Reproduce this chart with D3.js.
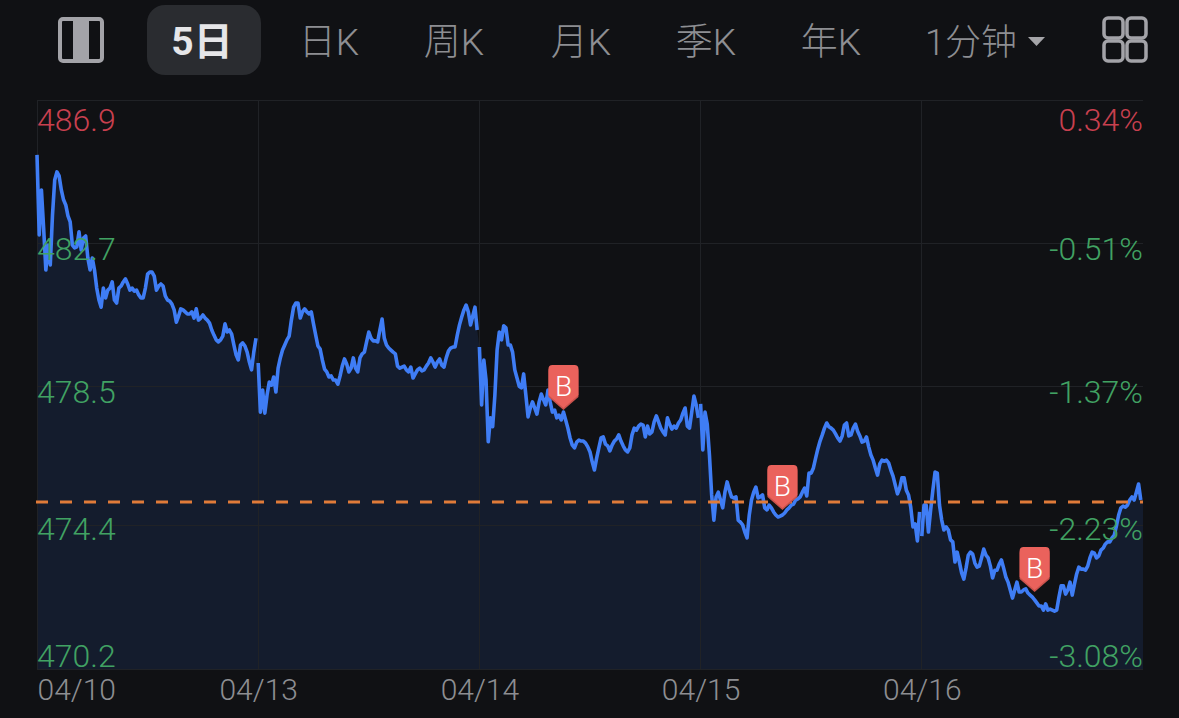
<!DOCTYPE html>
<html>
<head>
<meta charset="utf-8">
<script src="https://cdn.jsdelivr.net/npm/d3@7"></script>
<style>
html, body { margin: 0; padding: 0; background: #101114; overflow: hidden; }
text { font-family: Roboto, "Noto Sans CJK SC", sans-serif; }
</style>
</head>
<body>
<div id="chart"></div>
<script>
// Data
const tabs = ["日K", "周K", "月K", "季K", "年K"];
const dates = ["04/10", "04/13", "04/14", "04/15", "04/16"];
const priceTicks = [486.9, 482.7, 478.5, 474.4, 470.2];
const pctTicks = ["0.34%", "-0.51%", "-1.37%", "-2.23%", "-3.08%"];
const avgCost = 475.1;
const buySlots = [238, 337, 451];
const buyPrices = [477.80, 474.87, 472.46];

const day1 = [485.29,482.94,484.26,483.14,481.91,482.64,482.06,483.52,484.55,484.79,484.67,484.26,483.97,483.82,483.50,483.32,482.64,482.56,482.59,483.03,482.50,482.85,482.91,482.26,481.91,482.26,481.91,481.38,481.03,480.82,481.38,481.09,481.32,481.38,481.56,481.03,480.94,481.38,481.44,481.56,481.65,481.50,481.32,481.38,481.29,481.32,481.18,481.09,481.09,481.38,481.79,481.85,481.85,481.73,481.32,481.44,481.50,481.44,481.15,481.03,481.00,480.91,480.74,480.38,480.56,480.77,480.74,480.68,480.62,480.62,480.68,480.50,480.77,480.44,480.50,480.59,480.50,480.44,480.35,480.15,480.00,479.86,479.80,479.86,479.97,480.33,480.09,480.15,480.03,479.71,479.42,479.27,479.71,479.77,479.68,479.50,479.21,478.98,479.50,479.91];
const day2 = [479.18,477.74,478.39,477.71,478.24,478.62,478.53,478.77,478.33,479.03,479.33,479.56,479.71,479.86,479.97,480.44,480.82,480.94,480.94,480.50,480.68,480.77,480.68,480.62,480.68,480.33,480.00,479.68,479.59,479.27,479.00,478.92,478.77,478.80,478.68,478.68,478.56,478.80,479.09,479.30,479.15,478.92,479.03,479.33,479.03,478.92,479.33,479.45,479.50,479.80,480.09,479.91,479.83,479.83,479.80,480.15,480.47,479.91,479.71,479.62,479.56,479.50,479.45,479.09,479.03,479.06,479.09,478.98,478.92,479.06,478.74,478.86,478.98,479.03,478.95,478.98,479.09,479.18,479.33,479.21,479.06,479.21,479.30,479.12,479.06,479.33,479.53,479.62,479.65,479.65,480.00,480.30,480.53,480.74,480.88,480.68,480.30,480.56,480.82,480.15];
const day3 = [479.65,477.95,479.27,478.68,476.87,477.57,477.31,478.24,479.56,480.09,479.86,480.27,480.21,479.71,479.71,479.50,478.98,478.74,478.50,478.45,478.86,478.24,477.60,477.86,478.04,477.86,477.68,478.04,478.27,478.10,477.95,478.39,478.04,477.74,477.80,477.57,477.65,477.51,477.74,477.51,477.27,476.98,476.77,476.69,476.86,476.92,476.89,476.89,476.83,476.72,476.57,476.28,476.04,476.39,476.69,476.98,477.01,476.80,476.75,476.60,476.77,476.89,476.95,477.07,476.89,476.75,476.63,476.57,476.69,477.07,477.27,477.21,477.33,477.39,477.36,477.01,477.33,477.10,477.16,477.45,477.63,477.45,477.27,477.16,477.07,477.57,477.39,477.24,477.33,477.27,477.42,477.51,477.71,477.86,477.33,477.27,477.74,478.21,477.95,477.57];
const day4 = [477.98,476.63,477.74,477.39,476.48,475.31,474.57,475.25,475.39,475.16,474.93,475.39,475.69,475.45,475.25,475.22,475.25,474.57,474.51,474.43,474.22,474.05,474.72,475.16,475.39,475.54,475.22,475.25,475.31,474.93,474.87,475.01,474.93,474.81,474.72,474.66,474.69,474.72,474.78,474.87,474.93,475.01,475.04,475.16,475.19,475.25,475.39,475.51,475.28,475.95,475.95,476.10,476.39,476.66,476.89,477.07,477.27,477.42,477.31,477.27,477.21,477.10,476.98,476.89,477.04,477.36,477.42,477.04,477.07,477.27,477.39,477.18,477.04,476.86,476.89,477.01,476.72,476.48,476.33,476.10,475.89,476.22,476.33,476.30,476.33,476.25,476.04,475.86,475.60,475.34,475.51,475.81,475.81,475.45,475.31,474.95,474.37,474.46,473.96,474.81];
const day5 = [474.10,475.01,475.01,474.22,474.87,475.45,475.98,475.95,475.01,474.57,474.28,474.37,474.28,473.99,473.93,473.34,473.63,473.34,473.02,472.84,473.16,473.54,473.63,473.57,473.31,473.19,473.22,473.46,473.72,473.54,473.46,473.22,472.87,473.10,473.10,473.28,473.40,473.16,472.90,472.75,472.52,472.28,472.52,472.75,472.46,472.46,472.52,472.55,472.43,472.37,472.31,472.23,472.14,472.05,472.05,471.93,472.11,471.93,471.96,471.93,471.90,471.93,472.31,472.64,472.64,472.40,472.52,472.75,472.37,472.69,472.99,473.19,473.13,473.13,473.10,473.22,473.46,473.63,473.60,473.46,473.52,473.69,473.75,473.87,473.93,473.93,474.05,474.13,474.40,474.72,474.93,474.98,474.95,475.01,475.16,475.25,475.16,475.39,475.63,475.16];

// SVG size
const width = 1179;
const height = 718;
const plot = { left: 37, right: 1143, top: 100, bottom: 669 };
const slotsPerDay = 100;

const svg = d3.select("#chart").append("svg")
    .attr("width", width)
    .attr("height", height)
    .style("display", "block");

svg.append("rect").attr("width", width).attr("height", height).attr("fill", "#101114");

// Scales
const x = d3.scaleLinear().domain([0, slotsPerDay * 5]).range([plot.left, plot.right]);
const y = d3.scaleLinear().domain([470.2, 486.9]).range([plot.bottom, plot.top]);

const days = [day1, day2, day3, day4, day5];
const points = days.flatMap((d, i) => d.map((p, j) => ({ slot: i * slotsPerDay + j, price: p })));

// Header
const headerGrey = "#8d8e92";
svg.append("rect").attr("x", 147).attr("y", 5).attr("width", 114).attr("height", 70).attr("rx", 18).attr("fill", "#2a2c30");
svg.append("text").attr("x", 202).attr("y", 55).attr("text-anchor", "middle")
    .attr("font-size", 39).attr("font-weight", 700).attr("fill", "#e6e6e8").text("5日");

const tabX = [329, 454, 581, 706, 831];
svg.selectAll(".tab").data(tabs).enter().append("text")
    .attr("class", "tab")
    .attr("x", (_, i) => tabX[i]).attr("y", 55).attr("text-anchor", "middle")
    .attr("font-size", 37).attr("font-weight", 300).attr("fill", headerGrey)
    .text(d => d);

svg.append("text").attr("x", 971).attr("y", 55).attr("text-anchor", "middle")
    .attr("font-size", 36).attr("font-weight", 300).attr("fill", headerGrey).text("1分钟");
svg.append("path").attr("d", "M1028 37H1045L1036.5 46Z").attr("fill", "#a5a5a9");

// Left panel icon
svg.append("rect").attr("x", 60).attr("y", 19).attr("width", 42).attr("height", 42).attr("rx", 3)
    .attr("fill", "none").attr("stroke", "#a3a3a8").attr("stroke-width", 4);
svg.append("rect").attr("x", 73).attr("y", 19).attr("width", 16).attr("height", 42).attr("fill", "#a3a3a8");

// Right grid icon
[[1104, 18], [1127, 18], [1104, 41], [1127, 41]].forEach(p => {
    svg.append("rect").attr("x", p[0]).attr("y", p[1]).attr("width", 19).attr("height", 20).attr("rx", 4)
        .attr("fill", "none").attr("stroke", "#a3a3a8").attr("stroke-width", 3.5);
});

// Area below the line, carried on to the right edge of the plot
const area = d3.area().x(d => x(d.slot)).y0(plot.bottom).y1(d => y(d.price));
svg.append("path")
    .datum(points.concat({ slot: slotsPerDay * 5, price: day5[day5.length - 1] }))
    .attr("d", area)
    .attr("fill", "#141c2d");

// Gridlines
const grid = svg.append("g").attr("stroke", "#202226").attr("stroke-width", 1).attr("shape-rendering", "crispEdges");
priceTicks.forEach(t => {
    grid.append("line").attr("x1", plot.left).attr("x2", plot.right).attr("y1", y(t)).attr("y2", y(t));
});
dates.forEach((_, i) => {
    grid.append("line").attr("x1", x(i * slotsPerDay)).attr("x2", x(i * slotsPerDay)).attr("y1", plot.top).attr("y2", plot.bottom);
});

// Price line, one path per day
const line = d3.line().x(d => x(d.slot)).y(d => y(d.price));
days.forEach((d, i) => {
    svg.append("path")
        .datum(d.map((p, j) => ({ slot: i * slotsPerDay + j, price: p })))
        .attr("d", line)
        .attr("fill", "none")
        .attr("stroke", "#3f7df5")
        .attr("stroke-width", 3.6)
        .attr("stroke-linejoin", "round");
});

// Dashed cost line
svg.append("line")
    .attr("x1", plot.left - 1).attr("x2", plot.right)
    .attr("y1", y(avgCost)).attr("y2", y(avgCost))
    .attr("stroke", "#e07b39").attr("stroke-width", 3)
    .attr("stroke-dasharray", "12 12");

// Buy markers
const markerShape = "M0 0L-15 -13V-39Q-15 -43 -11 -43H11Q15 -43 15 -39V-13Z";
const markers = svg.selectAll(".buy").data(buySlots).enter().append("g")
    .attr("class", "buy")
    .attr("transform", (d, i) => `translate(${x(d)},${y(buyPrices[i])})`);
markers.append("path").attr("d", markerShape).attr("fill", "#c9524c");
markers.append("path").attr("d", markerShape).attr("transform", "translate(0,-2)").attr("fill", "#ea625c");
markers.append("text").attr("y", -14).attr("text-anchor", "middle")
    .attr("font-size", 28).attr("font-weight", 300).attr("fill", "#ffffff").text("B");

// Axes
const green = "#41a263";
const red = "#c8404f";
const labelDy = [30, 16, 16, 14, -3];
const leftAxis = svg.append("g")
    .attr("transform", `translate(${plot.left},0)`)
    .call(d3.axisRight(y).tickValues(priceTicks).tickSize(0).tickPadding(0).tickFormat(d3.format(".1f")));
leftAxis.select(".domain").remove();
leftAxis.selectAll("text")
    .attr("font-size", 32).attr("font-weight", 300)
    .attr("fill", (_, i) => i === 0 ? red : green)
    .attr("dy", (_, i) => `${labelDy[i]}px`);

const rightAxis = svg.append("g")
    .attr("transform", `translate(${plot.right},0)`)
    .call(d3.axisLeft(y).tickValues(priceTicks).tickSize(0).tickPadding(0).tickFormat((_, i) => pctTicks[i]));
rightAxis.select(".domain").remove();
rightAxis.selectAll("text")
    .attr("font-size", 32).attr("font-weight", 300)
    .attr("fill", (_, i) => i === 0 ? red : green)
    .attr("dy", (_, i) => `${labelDy[i]}px`);

const bottomAxis = svg.append("g")
    .attr("transform", `translate(0,${plot.bottom})`)
    .call(d3.axisBottom(x).tickValues(dates.map((_, i) => i * slotsPerDay)).tickSize(0).tickPadding(0).tickFormat((_, i) => dates[i]));
bottomAxis.select(".domain").remove();
bottomAxis.selectAll("text")
    .attr("font-size", 30).attr("font-weight", 300)
    .attr("fill", headerGrey)
    .attr("y", 31)
    .attr("dy", 0)
    .attr("text-anchor", (_, i) => i === 0 ? "start" : "middle");
</script>
</body>
</html>
